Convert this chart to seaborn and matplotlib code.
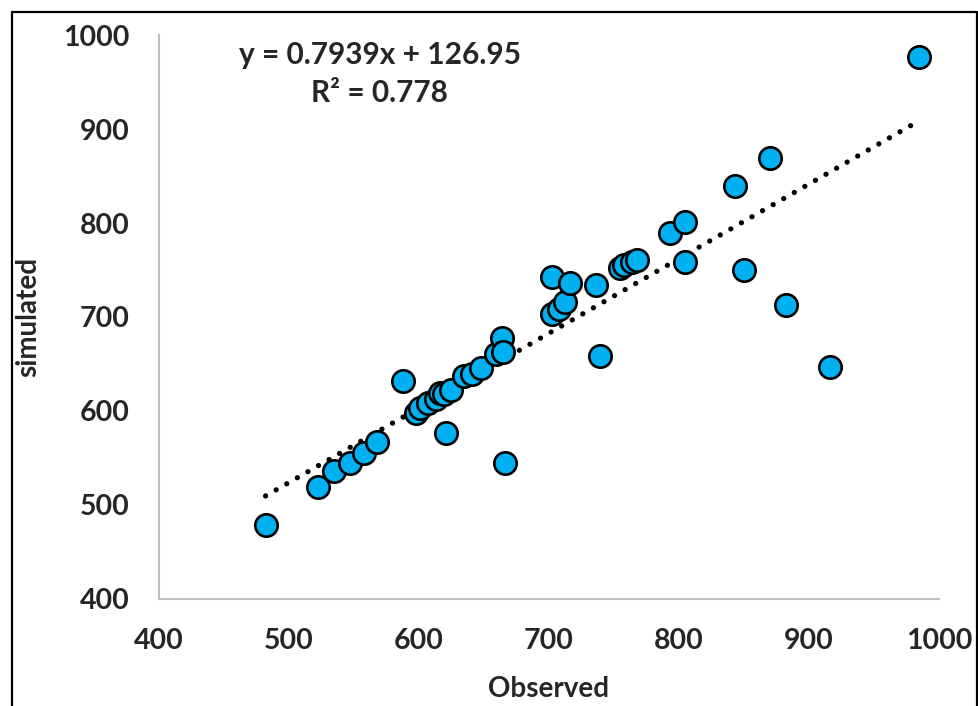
import numpy as np
import pandas as pd
import matplotlib
matplotlib.use("Agg")
import matplotlib.pyplot as plt
from matplotlib.lines import Line2D
import seaborn as sns

# observed vs simulated values
observed = [482, 522, 535, 547, 558, 568, 588, 598, 601, 607, 613, 616, 619, 621,
            625, 635, 641, 648, 659, 664, 665, 666, 702, 702, 708, 712, 716, 736,
            739, 755, 758, 764, 768, 793, 805, 805, 843, 850, 870, 882, 916, 985]
simulated = [479, 519, 536, 545, 555, 567, 632, 598, 603, 609, 613, 619, 618, 577,
             622, 637, 639, 646, 661, 678, 663, 545, 703, 743, 709, 716, 736, 734,
             658, 752, 755, 758, 761, 789, 801, 758, 839, 750, 869, 713, 647, 977]

# linear trendline as reported on the chart
slope = 0.7939
intercept = 126.95
r2 = 0.778

ticks = [400, 500, 600, 700, 800, 900, 1000]

df = pd.DataFrame({"observed": observed, "simulated": simulated})
trend_x = np.array([min(observed), max(observed)])
trend = pd.DataFrame({"x": trend_x, "y": slope * trend_x + intercept})

sns.set_theme(style="white")
plt.rcParams["font.family"] = ["Lato", "DejaVu Sans"]

fig = plt.figure(figsize=(9.79, 7.06), dpi=100)
ax = fig.add_axes([0.1624, 0.1516, 0.7967, 0.7988])

sns.lineplot(data=trend, x="x", y="y", ax=ax, color="black", linewidth=3.8,
             linestyle=(0, (0.01, 2.3)), dash_capstyle="round", zorder=1)
sns.scatterplot(data=df, x="observed", y="simulated", ax=ax, s=260,
                color="#00B0F0", edgecolor="black", linewidth=1.9, zorder=2)

ax.set_xlim(400, 1000)
ax.set_ylim(400, 1000)
ax.set_xticks(ticks)
ax.set_yticks(ticks)
ax.tick_params(length=0, labelsize=20.5, pad=21)
for lab in ax.get_xticklabels() + ax.get_yticklabels():
    lab.set_fontweight("bold")

sns.despine(ax=ax)
for side in ["left", "bottom"]:
    ax.spines[side].set_color("#BFBFBF")
    ax.spines[side].set_linewidth(1.5)

ax.set_xlabel("Observed", fontsize=20, fontweight="bold", labelpad=16)
ax.set_ylabel("simulated", fontsize=20, fontweight="bold", labelpad=16)

ax.text(0.283, 0.965, f"y = {slope}x + {intercept}", transform=ax.transAxes,
        ha="center", va="center", fontsize=21.5, fontweight="bold")
ax.text(0.283, 0.897, f"R² = {r2}", transform=ax.transAxes,
        ha="center", va="center", fontsize=21.5, fontweight="bold")

# outer frame of the original image
fx0, fx1, fy1 = 12 / 979, 977 / 979, 1 - 12 / 706
for xs, ys in [([fx0, fx0], [0, fy1]), ([fx0, fx1], [fy1, fy1]), ([fx1, fx1], [0, fy1])]:
    fig.add_artist(Line2D(xs, ys, color="black", linewidth=1.6))

fig.savefig("out.png", dpi=100)
